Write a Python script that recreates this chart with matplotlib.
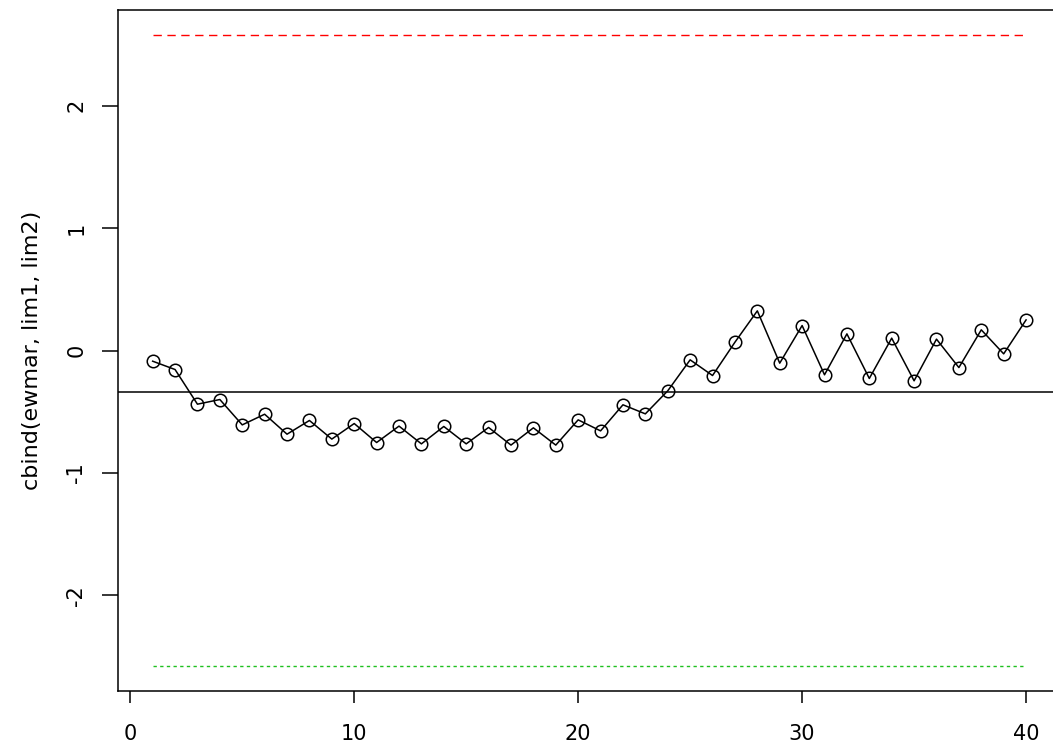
import numpy as np
import matplotlib
matplotlib.use('Agg')
from matplotlib import pyplot as plt

plt.rcParams['font.family'] = ['DejaVu Sans']

# EWMA series and limits
t = np.arange(1, 41)
ewmar = [-0.087, -0.155, -0.438, -0.400, -0.607, -0.520, -0.683, -0.571, -0.723, -0.596,
         -0.751, -0.617, -0.762, -0.620, -0.762, -0.628, -0.772, -0.631, -0.772, -0.566,
         -0.656, -0.443, -0.517, -0.329, -0.076, -0.204, 0.068, 0.324, -0.103, 0.204,
         -0.198, 0.136, -0.228, 0.101, -0.247, 0.093, -0.139, 0.169, -0.027, 0.250]
lim1 = 2.576
lim2 = -2.576
centre = -0.34

xticks = [0, 10, 20, 30, 40]
yticks = [-2, -1, 0, 1, 2]

fig = plt.figure(figsize=(10.53, 7.44), dpi=100)
ax = fig.add_axes([0.1118, 0.0712, 0.8958, 0.9153])

ax.plot(t, ewmar, '-', color='black', lw=1.1, marker='o', ms=9,
        mfc='none', mec='black', mew=1.1)
ax.plot(t, [lim1] * len(t), color='#ff0000', lw=1.0, linestyle=(0, (6, 4)))
ax.plot(t, [lim2] * len(t), color='#1fc01f', lw=1.0, linestyle=(0, (2.4, 2.4)))
ax.axhline(centre, color='black', lw=1.1)

ax.set_xlim(-0.56, 41.56)
ax.set_ylim(-2.78, 2.78)
ax.set_xticks(xticks)
ax.set_yticks(yticks)
ax.set_xticklabels([str(v) for v in xticks], fontsize=15)
ax.set_yticklabels([str(v) for v in yticks], fontsize=15, rotation=90, va='center')
ax.tick_params(axis='x', length=8.6, width=1.1, pad=15.5)
ax.tick_params(axis='y', length=11.5, width=1.1, pad=11)
for s in ax.spines.values():
    s.set_linewidth(1.1)

ax.set_ylabel('cbind(ewmar, lim1, lim2)', fontsize=16)
ax.yaxis.set_label_coords(-0.08, 0.5)

plt.savefig('out.png', dpi=100)
